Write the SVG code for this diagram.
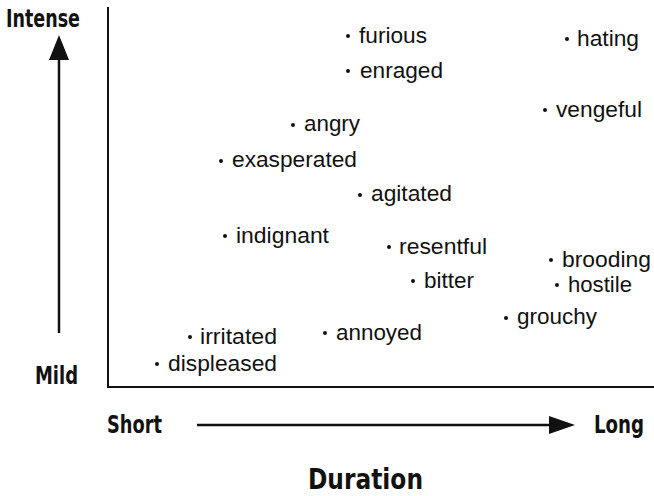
<svg xmlns="http://www.w3.org/2000/svg" width="654" height="496" viewBox="0 0 654 496">
<style>
.lbl{font-family:"Liberation Sans",Arial,sans-serif;font-size:21.5px;fill:#111}
.ax{font-family:"Liberation Sans Narrow","DejaVu Sans Condensed","Liberation Sans",sans-serif;font-weight:bold;fill:#111}
.dot{fill:#111}
.line{stroke:#111;stroke-width:2;fill:none}
</style>
<rect width="654" height="496" fill="#fff"/>
<g id="connectors">
<path class="line" d="M108,7 L108,387 L654,387"/>
<line x1="59" y1="333" x2="59" y2="60" stroke="#111" stroke-width="2.5"/>
<path d="M49,60 L59,35 L69,60 z" fill="#111"/>
<line x1="197" y1="425" x2="550" y2="425" stroke="#111" stroke-width="2.5"/>
<path d="M549,416 L575,425 L549,434 z" fill="#111"/>
</g>
<g id="axis-labels">
<text class="ax" x="6" y="27" font-size="25" textLength="74" lengthAdjust="spacingAndGlyphs">Intense</text>
<text class="ax" x="35" y="384" font-size="25" textLength="43" lengthAdjust="spacingAndGlyphs">Mild</text>
<text class="ax" x="107" y="433" font-size="25" textLength="55" lengthAdjust="spacingAndGlyphs">Short</text>
<text class="ax" x="594" y="433" font-size="25" textLength="50" lengthAdjust="spacingAndGlyphs">Long</text>
<text class="ax" x="308" y="489" font-size="29" textLength="115" lengthAdjust="spacingAndGlyphs">Duration</text>
</g>
<g id="furious"><circle class="dot" cx="348" cy="36" r="2"/><text class="lbl" x="359" y="43" textLength="68" lengthAdjust="spacingAndGlyphs">furious</text></g>
<g id="hating"><circle class="dot" cx="567" cy="39" r="2"/><text class="lbl" x="577" y="46" textLength="62" lengthAdjust="spacingAndGlyphs">hating</text></g>
<g id="enraged"><circle class="dot" cx="348" cy="71" r="2"/><text class="lbl" x="360" y="78" textLength="83" lengthAdjust="spacingAndGlyphs">enraged</text></g>
<g id="vengeful"><circle class="dot" cx="545" cy="110" r="2"/><text class="lbl" x="556" y="117" textLength="86" lengthAdjust="spacingAndGlyphs">vengeful</text></g>
<g id="angry"><circle class="dot" cx="293" cy="125" r="2"/><text class="lbl" x="304" y="131" textLength="56" lengthAdjust="spacingAndGlyphs">angry</text></g>
<g id="exasperated"><circle class="dot" cx="221" cy="161" r="2"/><text class="lbl" x="232" y="167" textLength="125" lengthAdjust="spacingAndGlyphs">exasperated</text></g>
<g id="agitated"><circle class="dot" cx="360" cy="195" r="2"/><text class="lbl" x="371" y="201" textLength="81" lengthAdjust="spacingAndGlyphs">agitated</text></g>
<g id="indignant"><circle class="dot" cx="225" cy="236" r="2"/><text class="lbl" x="236" y="243" textLength="93" lengthAdjust="spacingAndGlyphs">indignant</text></g>
<g id="resentful"><circle class="dot" cx="389" cy="247" r="2"/><text class="lbl" x="399" y="254" textLength="88" lengthAdjust="spacingAndGlyphs">resentful</text></g>
<g id="brooding"><circle class="dot" cx="551" cy="260" r="2"/><text class="lbl" x="562" y="267" textLength="89" lengthAdjust="spacingAndGlyphs">brooding</text></g>
<g id="bitter"><circle class="dot" cx="413" cy="281" r="2"/><text class="lbl" x="424" y="288" textLength="50" lengthAdjust="spacingAndGlyphs">bitter</text></g>
<g id="hostile"><circle class="dot" cx="557" cy="285" r="2"/><text class="lbl" x="568" y="292" textLength="64" lengthAdjust="spacingAndGlyphs">hostile</text></g>
<g id="grouchy"><circle class="dot" cx="506" cy="318" r="2"/><text class="lbl" x="517" y="324" textLength="80" lengthAdjust="spacingAndGlyphs">grouchy</text></g>
<g id="irritated"><circle class="dot" cx="190" cy="337" r="2"/><text class="lbl" x="200" y="344" textLength="77" lengthAdjust="spacingAndGlyphs">irritated</text></g>
<g id="annoyed"><circle class="dot" cx="325" cy="333" r="2"/><text class="lbl" x="336" y="340" textLength="86" lengthAdjust="spacingAndGlyphs">annoyed</text></g>
<g id="displeased"><circle class="dot" cx="157" cy="364" r="2"/><text class="lbl" x="168" y="371" textLength="109" lengthAdjust="spacingAndGlyphs">displeased</text></g>
</svg>
